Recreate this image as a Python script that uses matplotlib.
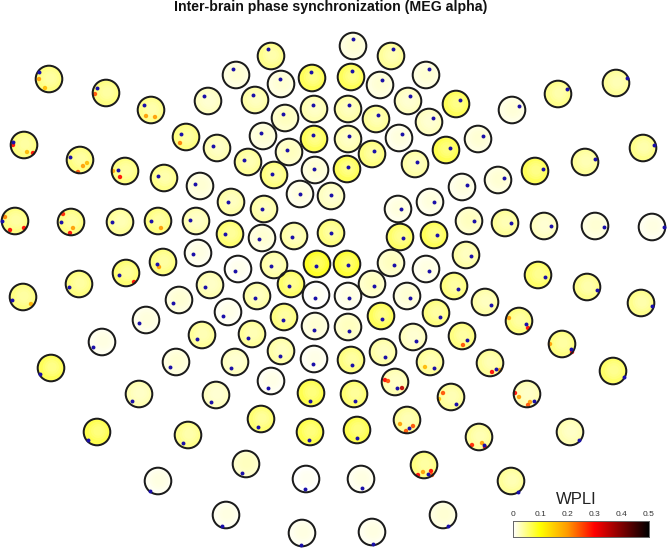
import matplotlib
matplotlib.use("Agg")
import numpy as np
import matplotlib.pyplot as plt
from matplotlib.colors import LinearSegmentedColormap, Normalize
from matplotlib.patches import Circle

plt.rcParams['font.family'] = ['Liberation Sans', 'DejaVu Sans']

title = "Inter-brain phase synchronization (MEG alpha)"
colorbar_label = "WPLI"
colorbar_ticks = [0, 0.1, 0.2, 0.3, 0.4, 0.5]
colorbar_tick_labels = ["0", "0.1", "0.2", "0.3", "0.4", "0.5"]

sensor_x = [271,353,391,49,236,312,351,426,281,380,616,106,558,208,255,408,456,151,512,314,348,285,376,429,
            186,263,314,348,399,478,24,217,289,372,446,643,248,315,347,415,80,585,125,164,274,462,498,535,200,
            300,331,398,430,231,264,196,15,71,120,158,469,505,544,595,652,230,262,294,331,400,434,466,198,163,
            238,274,317,347,391,426,126,538,79,210,291,372,454,587,23,179,257,316,348,407,485,641,146,228,284,
            315,381,436,519,348,202,252,413,462,102,562,281,314,351,383,176,235,430,490,51,613,271,395,311,354,
            139,216,451,527,261,407,310,357,97,188,479,570,246,424,306,361,158,511,226,443,302,372]
sensor_y = [56,46,56,79,75,78,77,75,84,85,83,93,94,101,100,101,104,110,110,109,109,118,119,122,
            137,136,139,139,138,139,145,148,152,154,150,148,162,170,169,164,160,162,171,178,175,187,180,171,186,
            194,196,209,202,202,209,221,221,222,222,221,221,223,226,226,227,234,238,236,233,237,235,255,253,262,
            269,265,264,264,263,269,273,275,284,285,284,284,286,287,297,300,296,295,296,296,302,303,320,312,317,
            326,316,313,321,327,335,334,337,336,342,344,351,359,360,352,362,362,362,363,368,371,381,382,393,394,
            394,395,397,394,419,420,432,430,432,435,437,432,464,465,479,479,481,481,515,515,533,532]
sensor_wpli = [.045,.012,.04,.05,.012,.065,.065,.012,.012,.012,.04,.05,.045,.025,.035,.025,.065,.045,.01,.03,.035,.02,.04,.025,
               .05,.012,.065,.03,.008,.012,.05,.03,.02,.05,.07,.045,.04,.012,.065,.035,.05,.04,.05,.045,.05,.008,.012,.065,.012,
               .008,.025,.008,.008,.035,.035,.03,.05,.05,.04,.05,.02,.04,.025,.012,.006,.055,.012,.035,.05,.06,.065,.035,.006,.05,
               .003,.035,.085,.08,.02,.006,.055,.06,.05,.03,.06,.02,.05,.045,.05,.012,.035,.001,.006,.012,.035,.045,.008,.004,.05,
               .012,.065,.05,.05,.02,.04,.04,.025,.05,.006,.05,.035,.005,.05,.035,.012,.025,.04,.04,.065,.06,.005,.03,.07,.055,
               .03,.025,.04,.03,.055,.04,.07,.07,.07,.045,.04,.03,.02,.05,.001,.006,.006,.04,.006,.012,.006,.006]
ref_x = [268,353,393,39,233,311,352,429,280,382,627,97,567,204,253,410,460,144,519,313,349,283,378,433,
         181,261,313,349,402,483,13,213,287,374,450,654,244,314,348,417,70,595,118,158,272,467,504,543,195,
         300,331,401,434,228,262,190,2,61,112,151,474,511,551,604,664,225,259,292,331,403,437,471,193,157,
         235,271,316,348,394,429,119,545,69,205,289,374,458,597,12,173,255,315,349,410,491,652,139,223,283,
         314,382,440,526,349,197,248,416,467,93,571,280,313,352,385,170,231,434,496,40,624,268,397,310,355,
         132,211,456,534,258,409,309,357,88,183,484,579,242,428,305,362,150,518,222,448,301,373]
ref_y = [49,39,49,72,69,72,71,69,79,80,78,88,89,96,95,96,100,105,106,105,105,114,115,118,
         134,133,135,136,134,136,142,146,150,151,148,145,160,169,167,162,157,159,170,176,174,185,178,169,184,
         194,195,209,202,202,209,220,221,222,222,221,221,223,226,227,227,234,239,237,233,238,235,256,254,264,
         271,266,266,265,265,271,275,277,287,287,286,286,289,290,300,303,298,298,298,298,305,306,323,316,320,
         330,319,317,324,331,339,338,341,340,347,349,356,364,365,357,367,368,368,369,374,377,388,388,401,401,
         401,402,404,401,427,428,440,438,440,443,445,440,473,474,489,488,491,492,526,526,545,544]

hot_x = [39,45,95,146,155,180,13,33,27,83,87,78,113,120,5,10,24,63,70,73,161,159,134,31,509,528,550,572,
         492,500,443,439,515,519,530,528,472,482,485,385,388,402,425,400,406,413,418,431,432,423,463]
hot_y = [79,88,94,116,117,143,145,153,152,166,163,172,171,177,217,230,228,214,233,228,228,267,282,304,318,328,344,352,
         372,370,393,399,393,397,402,405,445,443,447,380,381,388,367,424,431,426,475,471,475,472,345]
hot_wpli = [.2,.17,.25,.2,.2,.22,.3,.3,.17,.2,.17,.25,.2,.3,.22,.3,.3,.28,.3,.2,.2,.2,.3,.18,.2,.3,.2,.3,
            .3,.2,.25,.17,.3,.2,.2,.25,.28,.2,.3,.3,.25,.35,.17,.2,.25,.25,.3,.3,.25,.2,.25]

cmap = LinearSegmentedColormap.from_list(
    "wpli",
    [(0.0, "#ffffff"), (0.2, "#ffff00"), (0.4, "#ff9a00"), (0.6, "#ff0000"), (0.8, "#800000"), (1.0, "#000000")])
norm = Normalize(0, 0.5)

fig = plt.figure(figsize=(6.67, 5.48), dpi=100)
ax = fig.add_axes([0, 0, 1, 1])
ax.set_xlim(0, 667)
ax.set_ylim(548, 0)
ax.set_aspect("equal")
ax.axis("off")

R = 13.3
for x, y, w in zip(sensor_x, sensor_y, sensor_wpli):
    ax.add_patch(Circle((x, y), R, facecolor=cmap(norm(w)), edgecolor="none", zorder=2))
    inner = w * 0.6 if w > 0.02 else w + 0.008
    for frac in (0.7, 0.52, 0.35):
        ax.add_patch(Circle((x + 1, y - 1), R * frac, facecolor=cmap(norm(inner)),
                            edgecolor="none", alpha=0.3, zorder=3))

ax.scatter(hot_x, hot_y, c=hot_wpli, cmap=cmap, norm=norm, s=10, linewidths=0, alpha=0.9, zorder=4)

for x, y in zip(sensor_x, sensor_y):
    ax.add_patch(Circle((x, y), R, facecolor="none", edgecolor="#1c1c1c", linewidth=1.45, zorder=5))

ax.scatter(ref_x, ref_y, color="#1a0fa8", s=8, linewidths=0, zorder=6)

ax.text(331, 7, title, ha="center", va="center", fontsize=10.15, fontweight="bold", color="#111111")
ax.text(576, 499, colorbar_label, ha="center", va="center", fontsize=12, color="#222222")

cax = fig.add_axes([513 / 667, 1 - 537 / 548, 136 / 667, 16 / 548])
gradient = np.linspace(0, 0.5, 256)[None, :]
cax.imshow(gradient, aspect="auto", cmap=cmap, norm=norm, extent=[0, 0.5, 0, 1])
cax.set_yticks([])
cax.xaxis.tick_top()
cax.set_xticks(colorbar_ticks)
cax.set_xticklabels(colorbar_tick_labels, fontsize=6, color="#333333")
cax.tick_params(axis="x", length=0, pad=2.5)
for spine in cax.spines.values():
    spine.set_color("#666666")
    spine.set_linewidth(0.7)

fig.savefig("out.png", dpi=100)
